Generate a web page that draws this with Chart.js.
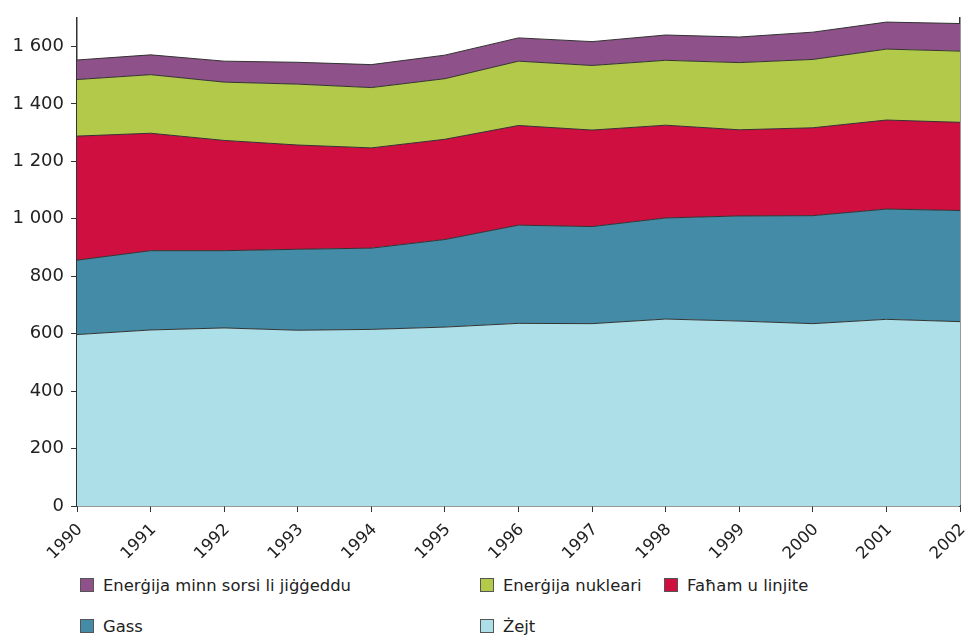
<!DOCTYPE html>
<html>
<head>
<meta charset="utf-8">
<script src="https://cdn.jsdelivr.net/npm/chart.js"></script>
<style>
  html, body { margin: 0; padding: 0; background: #fff; }
  body { width: 975px; height: 637px; overflow: hidden; font-family: "DejaVu Sans", Verdana, sans-serif; color: #222; }
  #wrap { position: relative; width: 975px; height: 560px; }
  #legend { position: absolute; left: 80px; top: 574px; display: grid; grid-template-columns: 400px 184px 200px; row-gap: 19px; }
  .item { display: flex; align-items: center; font-size: 16.4px; height: 22px; white-space: nowrap; }
  .box { width: 14px; height: 14px; border: 1px solid #555; margin-right: 9px; box-sizing: border-box; flex: none; }
</style>
</head>
<body>
<div id="wrap"><canvas id="chart"></canvas></div>
<div id="legend"></div>
<script>
  // Years and stacked series (bottom layer first)
  const years = ['1990', '1991', '1992', '1993', '1994', '1995', '1996', '1997', '1998', '1999', '2000', '2001', '2002'];
  const zejt = [597, 613, 620, 612, 615, 623, 636, 635, 651, 644, 635, 650, 642];
  const gass = [259, 276, 269, 282, 283, 305, 342, 338, 352, 366, 376, 384, 387];
  const faham = [432, 409, 384, 363, 349, 349, 347, 336, 323, 300, 306, 310, 307];
  const nukleari = [197, 204, 203, 212, 210, 211, 224, 225, 226, 234, 238, 247, 248];
  const rinnovabbli = [68, 69, 73, 76, 80, 82, 81, 83, 88, 89, 95, 94, 96];

  const yTicks = [0, 200, 400, 600, 800, 1000, 1200, 1400, 1600];

  const layers = [
    { label: 'Żejt', data: zejt, color: '#acdfe8' },
    { label: 'Gass', data: gass, color: '#438ba6' },
    { label: 'Faħam u linjite', data: faham, color: '#cf0f3f' },
    { label: 'Enerġija nukleari', data: nukleari, color: '#b3c94a' },
    { label: 'Enerġija minn sorsi li jiġġeddu', data: rinnovabbli, color: '#8f5189' }
  ];

  const axisColor = '#333';
  const fontFamily = '"DejaVu Sans", Verdana, sans-serif';

  const chart = new Chart(document.getElementById('chart'), {
    type: 'line',
    data: {
      labels: years,
      datasets: layers.map((l, i) => ({
        label: l.label,
        data: l.data,
        backgroundColor: l.color,
        borderColor: '#333',
        borderWidth: 1,
        pointRadius: 0,
        tension: 0,
        fill: i === 0 ? 'origin' : '-1'
      }))
    },
    options: {
      responsive: true,
      maintainAspectRatio: false,
      animation: false,
      layout: { padding: { top: 14, right: 15, left: 0, bottom: 0 } },
      plugins: { legend: { display: false }, tooltip: { enabled: false } },
      scales: {
        x: {
          offset: false,
          grid: { drawOnChartArea: false, drawTicks: true, tickLength: 6, color: axisColor },
          border: { color: axisColor, width: 1.5 },
          ticks: { color: '#222', font: { family: fontFamily, size: 16.5 }, minRotation: 45, maxRotation: 45, padding: 8, labelOffset: 3 },
          afterFit: (s) => { s.height = 54; s.paddingLeft = 0; s.paddingRight = 0; }
        },
        y: {
          stacked: true,
          min: 0,
          max: 1700,
          grid: { drawOnChartArea: false, drawTicks: true, tickLength: 6, color: axisColor },
          border: { color: axisColor, width: 1.5 },
          afterBuildTicks: (s) => { s.ticks = yTicks.map(v => ({ value: v })); },
          ticks: {
            color: '#222',
            font: { family: fontFamily, size: 18 },
            padding: 7,
            callback: (v) => String(v).replace(/\B(?=(\d{3})+(?!\d))/g, ' ')
          },
          afterFit: (s) => { s.width = 77; }
        },
        yEdge: {
          position: 'right',
          min: 0,
          max: 1700,
          grid: { display: false },
          ticks: { display: false },
          border: { color: axisColor, width: 1.5 },
          afterFit: (s) => { s.width = 0; }
        }
      }
    }
  });

  // Legend in reading order: top layer first
  const legend = document.getElementById('legend');
  chart.data.datasets.slice().reverse().forEach(ds => {
    const item = document.createElement('div');
    item.className = 'item';
    item.innerHTML = `<span class="box" style="background:${ds.backgroundColor}"></span><span>${ds.label}</span>`;
    legend.appendChild(item);
  });
</script>
</body>
</html>
